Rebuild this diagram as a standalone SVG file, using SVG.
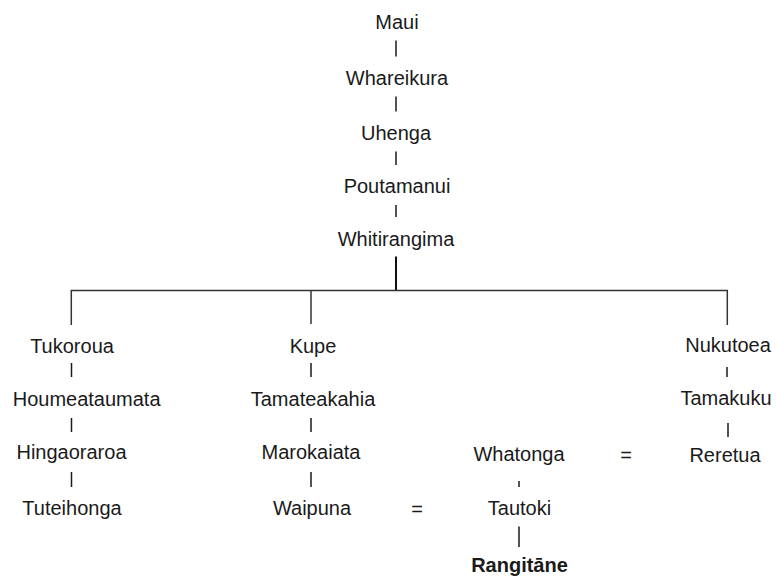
<svg xmlns="http://www.w3.org/2000/svg" width="777" height="576" viewBox="0 0 777 576">
<style>
text{font-family:"Liberation Sans",Arial,sans-serif;font-size:20px;fill:#1a1a1a;text-anchor:middle}
.b{font-weight:bold}
.s{text-anchor:start}
.t{stroke:#1a1a1a;stroke-width:1.5;fill:none}
.m{stroke:#111;stroke-width:2;fill:none}
.h{stroke:#333;stroke-width:1.5;fill:none}
</style>
<rect width="777" height="576" fill="#fff"/>
<g id="connectors">
<line class="t" x1="396" y1="40.5" x2="396" y2="56.5"/>
<line class="t" x1="396" y1="96.5" x2="396" y2="111.5"/>
<line class="t" x1="396" y1="151.5" x2="396" y2="165"/>
<line class="t" x1="396" y1="205" x2="396" y2="217"/>
<line class="m" x1="396" y1="256.5" x2="396" y2="290"/>
<polyline class="h" points="71.3,325 71.3,290.5 727.3,290.5 727.3,325"/>
<line class="h" x1="311" y1="290.5" x2="311" y2="324"/>
<line class="t" x1="71.5" y1="363" x2="71.5" y2="377"/>
<line class="t" x1="71.5" y1="418" x2="71.5" y2="432"/>
<line class="t" x1="71.5" y1="472" x2="71.5" y2="487"/>
<line class="t" x1="311" y1="363" x2="311" y2="377"/>
<line class="t" x1="311" y1="418" x2="311" y2="432"/>
<line class="t" x1="311" y1="472" x2="311" y2="487"/>
<line class="t" x1="727" y1="367" x2="727" y2="377"/>
<line class="t" x1="728" y1="423" x2="728" y2="437"/>
<line class="t" x1="519" y1="481" x2="519" y2="487"/>
<line class="t" x1="519" y1="526.5" x2="519" y2="547"/>
</g>
<g id="n-maui"><text x="397" y="29.3">Maui</text></g>
<g id="n-whareikura"><text x="397" y="85">Whareikura</text></g>
<g id="n-uhenga"><text x="396" y="139.5">Uhenga</text></g>
<g id="n-poutamanui"><text x="397" y="193">Poutamanui</text></g>
<g id="n-whitirangima"><text x="396" y="246">Whitirangima</text></g>
<g id="n-tukoroua"><text x="72" y="352.5">Tukoroua</text></g>
<g id="n-houmeataumata"><text class="s" x="12.7" y="406">Houmeataumata</text></g>
<g id="n-hingaoraroa"><text x="71.5" y="459">Hingaoraroa</text></g>
<g id="n-tuteihonga"><text x="72" y="515">Tuteihonga</text></g>
<g id="n-kupe"><text x="313" y="352.5">Kupe</text></g>
<g id="n-tamateakahia"><text x="313" y="405.5">Tamateakahia</text></g>
<g id="n-marokaiata"><text x="311" y="459">Marokaiata</text></g>
<g id="n-waipuna"><text x="312" y="515">Waipuna</text></g>
<g id="n-nukutoea"><text x="728" y="352">Nukutoea</text></g>
<g id="n-tamakuku"><text x="726" y="405">Tamakuku</text></g>
<g id="n-reretua"><text x="725" y="461.5">Reretua</text></g>
<g id="n-whatonga"><text x="519" y="461">Whatonga</text></g>
<g id="n-eq1"><text x="626" y="462">=</text></g>
<g id="n-tautoki"><text x="519.5" y="515">Tautoki</text></g>
<g id="n-eq2"><text x="417" y="516">=</text></g>
<g id="n-rangitane"><text class="b" x="519.5" y="572">Rangitāne</text></g>
</svg>
